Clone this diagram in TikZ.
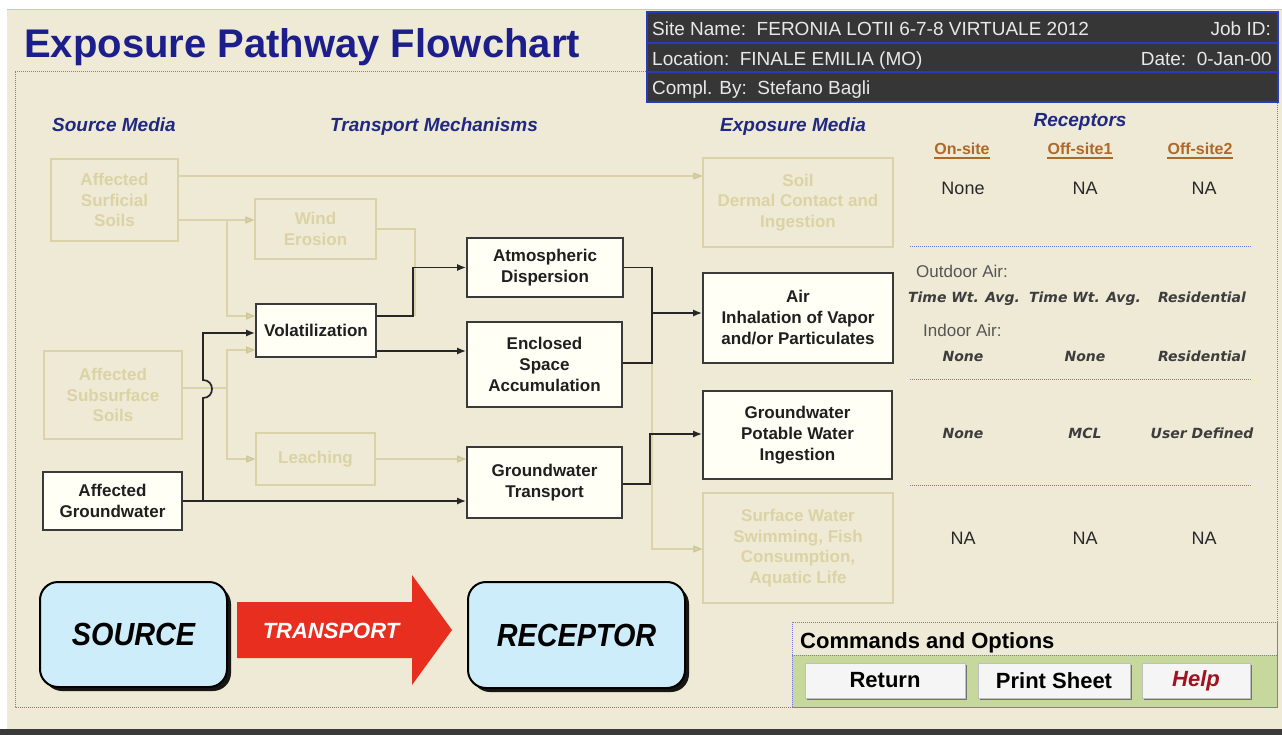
\documentclass[tikz,border=0pt]{standalone}
\usepackage{fontspec}
\setmainfont{Liberation Sans}
\newfontfamily\verd{DejaVu Sans}
\newfontfamily\condfont[FakeStretch=0.9]{Liberation Sans}
\usetikzlibrary{arrows.meta,shadows}

\newcommand\fsz[2]{\fontsize{#1}{#2}\selectfont}

\definecolor{bgbeige}{RGB}{238,234,214}
\definecolor{fadeline}{RGB}{218,210,168}
\definecolor{fadetip}{RGB}{205,198,150}
\definecolor{fadetext}{RGB}{219,211,164}
\definecolor{titleblue}{RGB}{28,30,140}
\definecolor{navy}{RGB}{32,40,130}
\definecolor{hdrfill}{RGB}{54,54,54}
\definecolor{hdrline}{RGB}{40,60,185}
\definecolor{hdrtext}{RGB}{232,232,232}
\definecolor{onsite}{RGB}{176,104,40}
\definecolor{dotblue}{RGB}{110,125,215}
\definecolor{srcblue}{RGB}{206,237,250}
\definecolor{arrowred}{RGB}{232,46,30}
\definecolor{cmdgreen}{RGB}{198,216,156}
\definecolor{helpred}{RGB}{160,18,30}
\definecolor{boxline}{RGB}{58,58,58}
\definecolor{boxfill}{RGB}{255,255,246}
\definecolor{tabtext}{RGB}{40,40,40}
\definecolor{greytext}{RGB}{85,85,85}
\definecolor{bottombar}{RGB}{58,58,58}

\tikzset{
  fadebox/.style={draw=fadeline, line width=1.3, text=fadetext, align=center,
    inner sep=0pt, font=\bfseries\fsz{17}{20.5}},
  actbox/.style={draw=boxline, line width=1.6, fill=boxfill, text=black!88,
    align=center, inner sep=0pt, font=\bfseries\fsz{17}{21}},
  blk/.style={draw=black!85, line width=1.7, -{Latex[length=9pt,width=7pt]}},
  blkn/.style={draw=black!85, line width=1.7},
  fad/.style={draw=fadeline, line width=1.2,
    -{Triangle[length=9pt,width=7pt,fill=fadeline,color=fadetip]}},
  fadn/.style={draw=fadeline, line width=1.2},
  colhead/.style={anchor=base west, inner sep=0pt, text=navy,
    font=\bfseries\itshape\fsz{19}{22}},
  hdr/.style={inner sep=0pt, text=hdrtext, font=\fsz{19}{22}},
  recol/.style={anchor=base, inner sep=0pt, text=onsite, font=\bfseries\fsz{16}{19}},
  val/.style={anchor=base, inner sep=0pt, text=tabtext, font=\fsz{18}{21}},
  ival/.style={anchor=base, inner sep=0pt, text=tabtext!90,
    font=\verd\bfseries\itshape\fsz{14}{17}},
  airlbl/.style={anchor=base west, inner sep=0pt, text=greytext, font=\fsz{17}{20}},
  divider/.style={draw=dotblue, line width=1, densely dotted},
  bigbox/.style={draw=black, line width=2, fill=srcblue, rounded corners=18pt,
    inner sep=0pt, font=\condfont\bfseries\itshape\fsz{32}{36},
    drop shadow={shadow xshift=4pt, shadow yshift=-4pt, fill=black, opacity=0.9}},
  button/.style={draw=black!25, line width=0.8, fill=black!4, inner sep=0pt,
    minimum height=35pt, font=\bfseries\fsz{22}{26},
    drop shadow={shadow xshift=2pt, shadow yshift=-2pt, fill=black!55, opacity=1}}
}

\begin{document}
\begin{tikzpicture}[x=1pt,y=-1pt]
  % page and frame
  \useasboundingbox (0,0) rectangle (1282,735);
  \fill[white] (0,0) rectangle (1282,735);
  \fill[bgbeige] (7,10) rectangle (1282,729);
  \draw[srcblue!70!dotblue, line width=1] (7,10) -- (1282,10);
  \fill[bottombar] (0,729) rectangle (1282,735);
  \draw[divider] (15,72) -- (647,72);
  \draw[divider] (15,72) -- (15,707) -- (1277,707) -- (1277,102);

  % title
  \node[anchor=base west, inner sep=0pt, text=titleblue,
        font=\bfseries\fsz{40}{46}] (title) at (24,58) {Exposure Pathway Flowchart};

  % site information panel
  \fill[hdrfill] (647,12) rectangle (1278,102);
  \draw[hdrline, line width=2] (647,12) rectangle (1278,102);
  \draw[hdrline, line width=2] (647,43) -- (1278,43);
  \draw[hdrline, line width=2] (647,72) -- (1278,72);
  \node[hdr, anchor=base west] (site) at (652,36) {Site Name:\ \ FERONIA LOTII 6-7-8 VIRTUALE 2012};
  \node[hdr, anchor=base east] (job) at (1271,36) {Job ID:};
  \node[hdr, anchor=base west] (loc) at (652,66) {Location:\ \ FINALE EMILIA (MO)};
  \node[hdr, anchor=base east] (date) at (1272,66) {Date:\ \ 0-Jan-00};
  \node[hdr, anchor=base west] (compl) at (652,95) {Compl. By:\ \ Stefano Bagli};

  % column headings
  \node[colhead] (hsrc) at (52,132) {Source Media};
  \node[colhead] (htrn) at (330,132) {Transport Mechanisms};
  \node[colhead] (hexp) at (720,132) {Exposure Media};
  \node[anchor=base, inner sep=0pt, text=navy, font=\bfseries\itshape\fsz{19}{22}]
       (hrec) at (1080,127) {Receptors};

  % source media
  \node[fadebox, minimum width=127pt, minimum height=82pt] (surf) at (114.5,200)
       {Affected\\Surficial\\Soils};
  \node[fadebox, minimum width=138pt, minimum height=88pt] (subs) at (113,395)
       {Affected\\Subsurface\\Soils};
  \node[actbox, minimum width=139pt, minimum height=58pt] (agw) at (112.5,501)
       {Affected\\Groundwater};

  % transport mechanisms
  \node[fadebox, minimum width=121pt, minimum height=60pt] (wind) at (315.5,229)
       {Wind\\Erosion};
  \node[actbox, minimum width=120pt, minimum height=53pt] (vol) at (316,330.5)
       {Volatilization};
  \node[fadebox, minimum width=119pt, minimum height=52pt] (leach) at (315.5,459)
       {Leaching};
  \node[actbox, minimum width=156pt, minimum height=59pt] (atm) at (545,267.5)
       {Atmospheric\\Dispersion};
  \node[actbox, minimum width=155pt, minimum height=85pt] (encl) at (544.5,364.5)
       {Enclosed\\Space\\Accumulation};
  \node[actbox, minimum width=155pt, minimum height=71pt] (gwt) at (544.5,482.5)
       {Groundwater\\Transport};

  % exposure media
  \node[fadebox, minimum width=190pt, minimum height=89pt] (soil) at (798,202.5)
       {Soil\\Dermal Contact and\\Ingestion};
  \node[actbox, minimum width=190pt, minimum height=90pt] (air) at (798,318)
       {Air\\Inhalation of Vapor\\and/or Particulates};
  \node[actbox, minimum width=189pt, minimum height=88pt] (gwp) at (797.5,435)
       {Groundwater\\Potable Water\\Ingestion};
  \node[fadebox, minimum width=190pt, minimum height=110pt] (surfw) at (798,548)
       {Surface Water\\Swimming, Fish\\Consumption,\\Aquatic Life};

  % inactive pathways
  \draw[fad] (surf.east |- 0,176) -- (soil.west |- 0,176);
  \draw[fad] (surf.east |- 0,220) -- (wind.west |- 0,220);
  \draw[fad] (227,220) |- (vol.west |- 0,316);
  \draw[fadn] (subs.east |- 0,388) -- (227,388);
  \draw[fad] (227,388) |- (vol.west |- 0,350);
  \draw[fad] (227,388) |- (leach.west);
  \draw[fadn] (wind.east) -| (415,316);
  \draw[fad] (leach.east) -- (gwt.west |- leach.east);
  \draw[fad] (652,363) |- (surfw.west |- 0,549);

  % active pathways
  \draw[blk] (vol.east |- 0,316) -| (413,267.5) -- (atm.west);
  \draw[blk] (vol.east |- 0,351) -- (encl.west |- 0,351);
  \draw[blk] (agw.east) -- (gwt.west |- agw.east);
  \draw[blk] (203,501) -- (203,398) .. controls (215,398) and (215,380) .. (203,380)
             -- (203,333) -- (vol.west |- 0,333);
  \draw[blkn] (atm.east) -| (652,363) -- (encl.east |- 0,363);
  \draw[blk] (652,313) -- (air.west |- 0,313);
  \draw[blk] (gwt.east |- 0,484) -| (650,434) -- (gwp.west |- 0,434);

  % receptors table
  \node[recol] (on) at (962,155) {On-site};
  \node[recol] (off1) at (1080,155) {Off-site1};
  \node[recol] (off2) at (1200,155) {Off-site2};
  \foreach \n in {on,off1,off2}
    \draw[onsite, line width=1.3] ([yshift=-3pt]\n.base west) -- ([yshift=-3pt]\n.base east);

  \node[val] (r1a) at (963,195) {None};
  \node[val] (r1b) at (1085,195) {NA};
  \node[val] (r1c) at (1204,195) {NA};
  \draw[divider] (910,247) -- (1252,247);

  \node[airlbl] (outd) at (916,278) {Outdoor Air:};
  \node[ival] (r2a) at (964,302) {Time Wt. Avg.};
  \node[ival] (r2b) at (1085,302) {Time Wt. Avg.};
  \node[ival] (r2c) at (1202,302) {Residential};
  \node[airlbl] (ind) at (923,336) {Indoor Air:};
  \node[ival] (r3a) at (963,361) {None};
  \node[ival] (r3b) at (1085,361) {None};
  \node[ival] (r3c) at (1202,361) {Residential};
  \draw[divider] (910,379) -- (1252,379);

  \node[ival] (r4a) at (963,438) {None};
  \node[ival] (r4b) at (1085,438) {MCL};
  \node[ival] (r4c) at (1202,438) {User Defined};
  \draw[divider] (910,485) -- (1252,485);

  \node[val] (r5a) at (963,544) {NA};
  \node[val] (r5b) at (1085,544) {NA};
  \node[val] (r5c) at (1204,544) {NA};

  % source - transport - receptor legend
  \node[bigbox, minimum width=187pt, minimum height=105pt] (src) at (133.5,634.5) {SOURCE};
  \node[bigbox, minimum width=217pt, minimum height=106pt] (rec) at (576.5,635) {RECEPTOR};
  \fill[arrowred] (237,602) -- (412,602) -- (412,575) -- (452,630) -- (412,685)
                  -- (412,658) -- (237,658) -- cycle;
  \node[inner sep=0pt, text=white, font=\bfseries\itshape\fsz{22}{26}] (trn) at (331,631) {TRANSPORT};

  % commands panel
  \fill[cmdgreen] (792,655) rectangle (1277,707);
  \draw[divider] (792,622) rectangle (1277,707);
  \draw[divider] (792,655) -- (1277,655);
  \node[anchor=base west, inner sep=0pt, font=\bfseries\fsz{22}{26}] (cmd) at (800,648)
       {Commands and Options};
  \node[button, minimum width=160pt] (ret) at (885,680.5) {Return};
  \node[button, minimum width=152pt] (prt) at (1054,680.5) {Print Sheet};
  \node[button, minimum width=108pt, text=helpred, font=\bfseries\itshape\fsz{22}{26}]
       (help) at (1196,680.5) {Help};
\end{tikzpicture}
\end{document}
